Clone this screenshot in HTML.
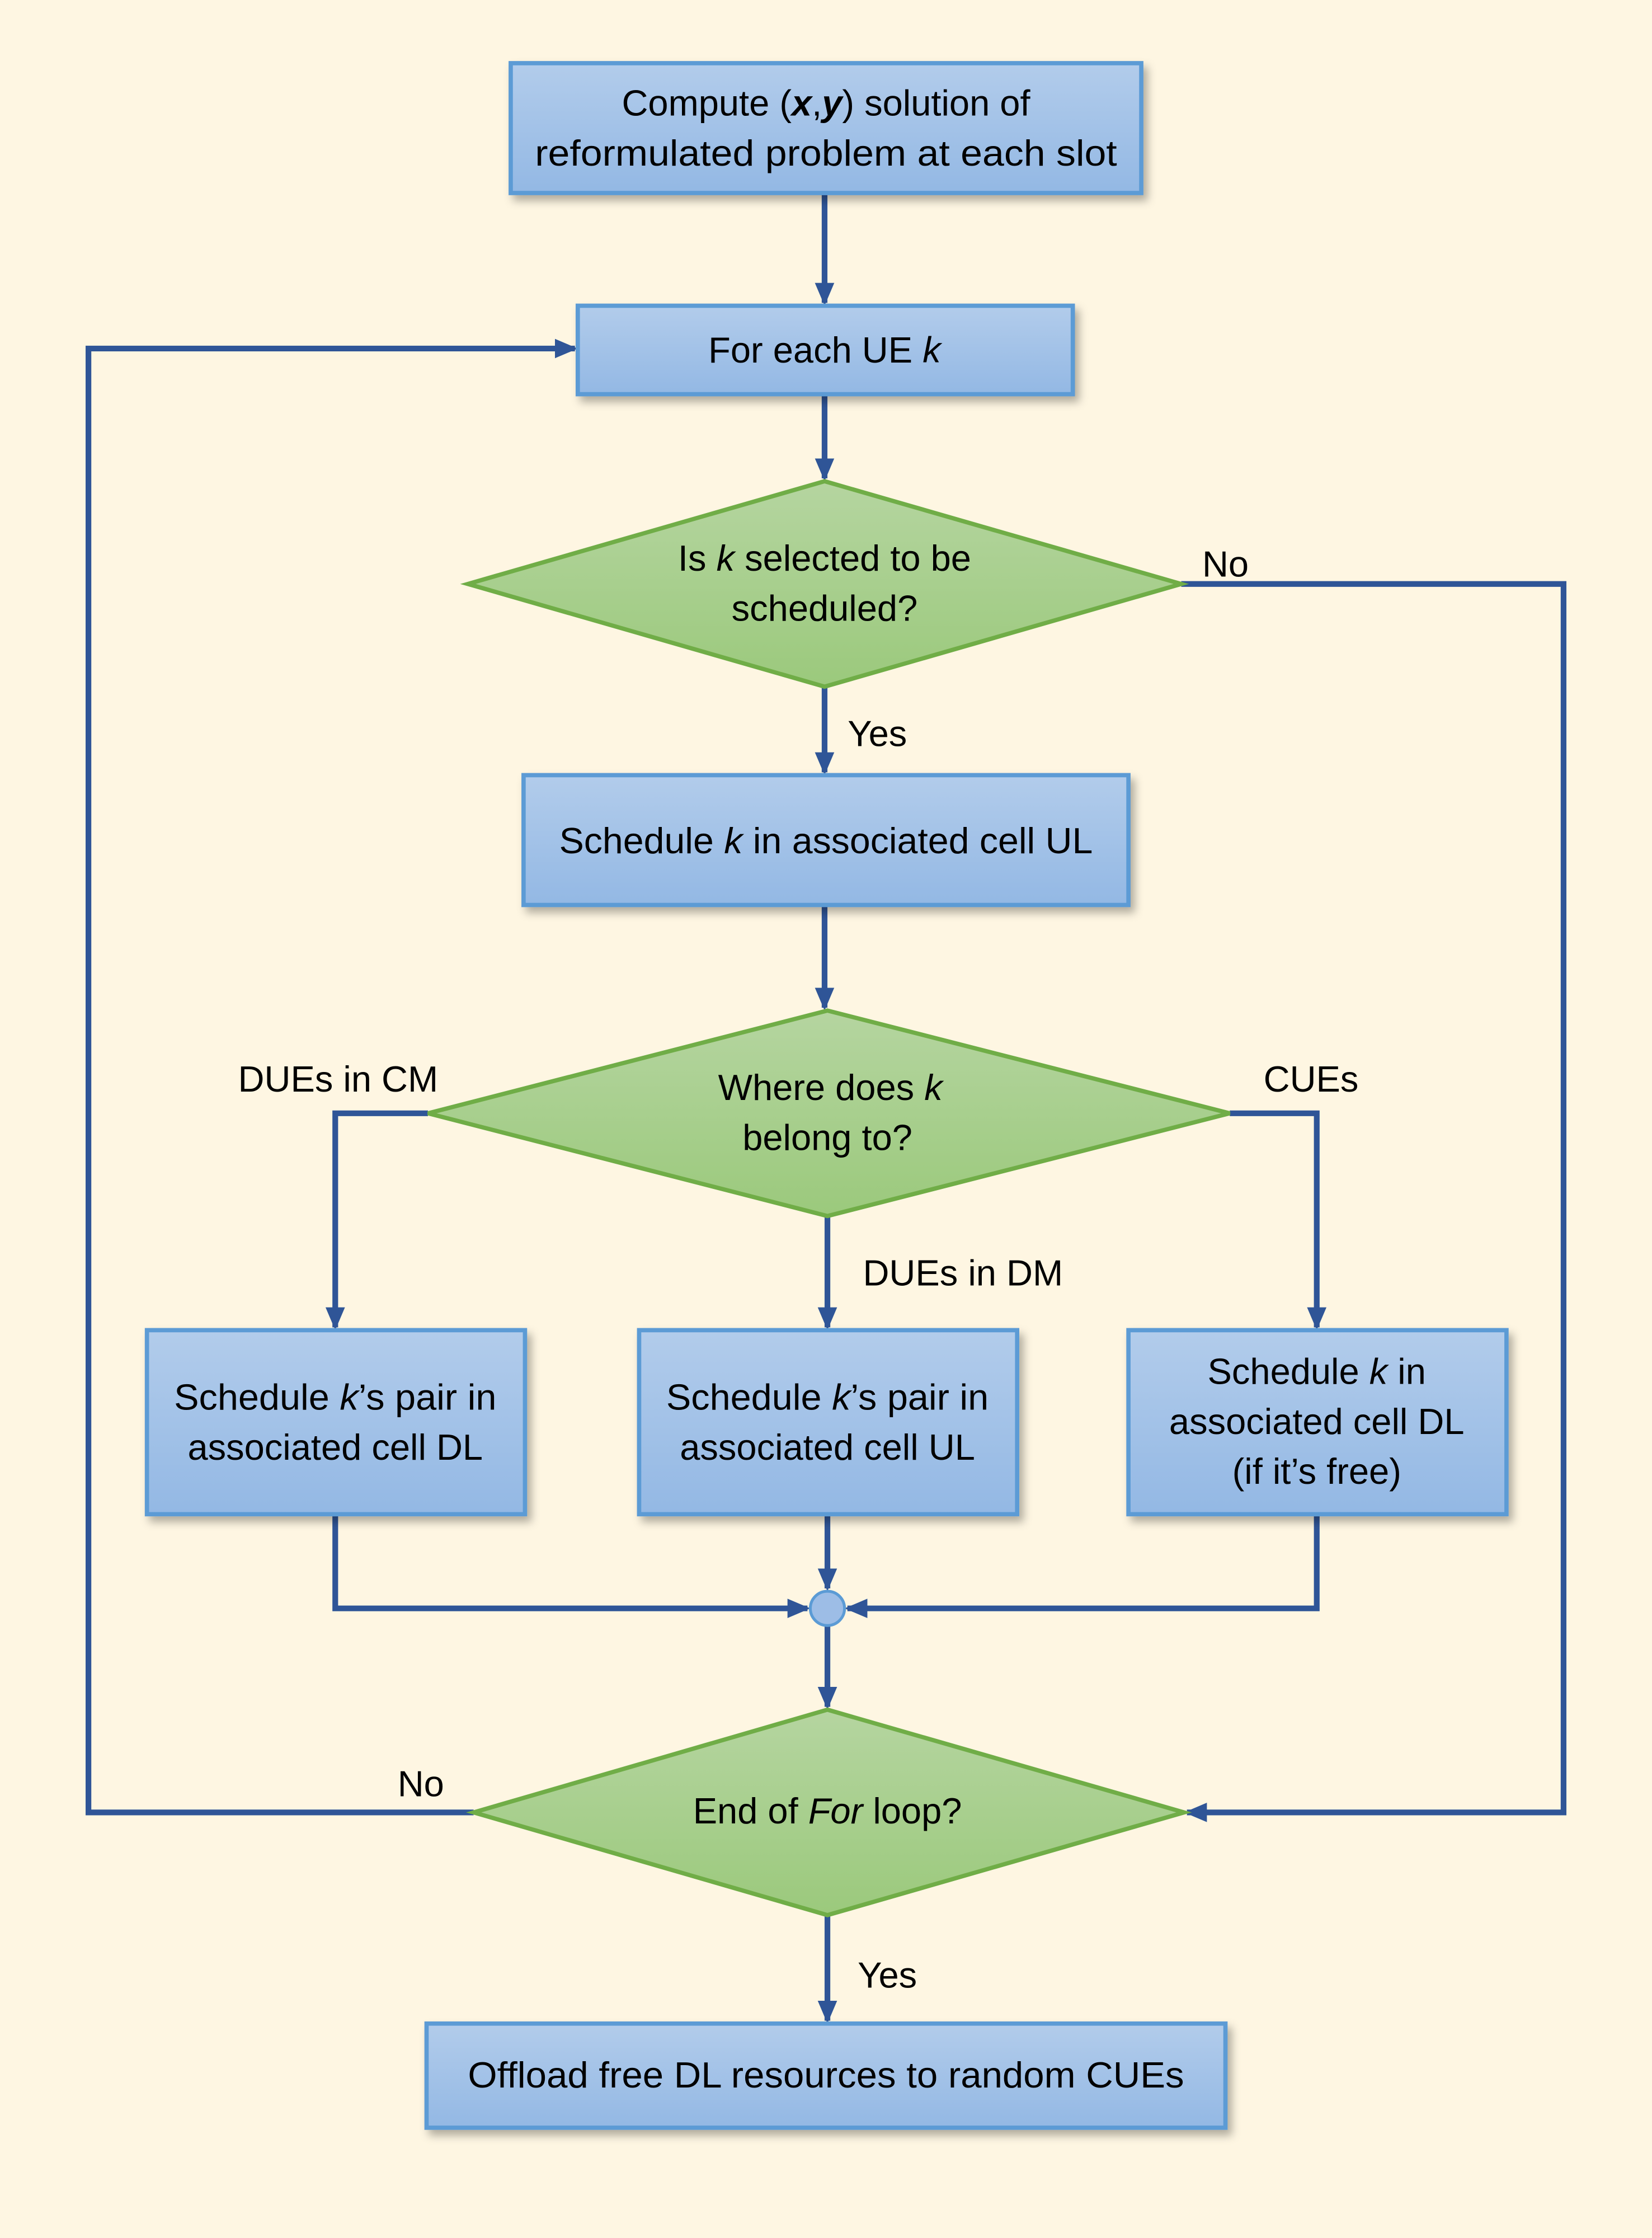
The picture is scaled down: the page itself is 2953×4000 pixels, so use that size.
<!DOCTYPE html>
<html><head><meta charset="utf-8"><style>
html,body{margin:0;padding:0;background:#fef6e2;}
svg{display:block;}
text{font-family:"Liberation Sans",sans-serif;font-size:25.5px;fill:#000;text-anchor:middle;dominant-baseline:middle;}
</style></head><body>
<svg width="2953" height="4000" viewBox="0 0 1158 1568" xmlns="http://www.w3.org/2000/svg">
<defs>
<linearGradient id="bg" x1="0" y1="0" x2="0" y2="1"><stop offset="0" stop-color="#b2cceb"/><stop offset="1" stop-color="#93b8e4"/></linearGradient>
<linearGradient id="gg" x1="0" y1="0" x2="0" y2="1"><stop offset="0" stop-color="#b5d5a0"/><stop offset="1" stop-color="#9bc97c"/></linearGradient>
<marker id="a" markerWidth="4" markerHeight="4" refX="3.5" refY="2" orient="auto" markerUnits="strokeWidth"><path d="M0,0.3 L4,2 L0,3.7 Z" fill="#2f5597"/></marker>
<filter id="sh" x="-5%" y="-5%" width="115%" height="125%"><feDropShadow dx="3" dy="4" stdDeviation="3" flood-color="#000" flood-opacity="0.3"/></filter>
</defs>
<rect width="1158" height="1568" fill="#fef6e2"/>
<g fill="none" stroke="#2f5597" stroke-width="4">
<path d="M578,135 V212" marker-end="url(#a)"/>
<path d="M578,276 V335" marker-end="url(#a)"/>
<path d="M578,481 V541" marker-end="url(#a)"/>
<path d="M578,634 V706" marker-end="url(#a)"/>
<path d="M300,780 H235 V930" marker-end="url(#a)"/>
<path d="M862,780 H923 V930" marker-end="url(#a)"/>
<path d="M580,852 V930" marker-end="url(#a)"/>
<path d="M235,1061 V1127 H566" marker-end="url(#a)"/>
<path d="M923,1061 V1127 H594" marker-end="url(#a)"/>
<path d="M580,1061 V1113" marker-end="url(#a)"/>
<path d="M580,1139 V1196" marker-end="url(#a)"/>
<path d="M332,1270 H62 V244 H403" marker-end="url(#a)"/>
<path d="M828,409 H1096 V1270 H832" marker-end="url(#a)"/>
<path d="M580,1342 V1416" marker-end="url(#a)"/>
</g>
<g stroke="#5b9bd5" stroke-width="3" fill="url(#bg)" filter="url(#sh)">
<rect x="358" y="44" width="442" height="91"/>
<rect x="405" y="214" width="347" height="62"/>
<rect x="367" y="543" width="424" height="91"/>
<rect x="103" y="932" width="265" height="129"/>
<rect x="448" y="932" width="265" height="129"/>
<rect x="791" y="932" width="265" height="129"/>
<rect x="299" y="1418" width="560" height="73"/>
</g>
<g stroke="#70ad47" stroke-width="3" fill="url(#gg)">
<path d="M578,337 L828,409 L578,481 L328,409 Z"/>
<path d="M580,708 L862,780 L580,852 L300,780 Z"/>
<path d="M580,1198 L830,1270 L580,1342 L332,1270 Z"/>
</g>
<circle cx="580" cy="1127" r="12" fill="#9dbde6" stroke="#5b9bd5" stroke-width="2"/>
<text x="579" y="74">Compute (<tspan font-weight="bold" font-style="italic">x</tspan>,<tspan font-weight="bold" font-style="italic">y</tspan>) solution of</text>
<text x="579" y="109" textLength="408" lengthAdjust="spacingAndGlyphs">reformulated problem at each slot</text>
<text x="578" y="247">For each UE <tspan font-style="italic">k</tspan></text>
<text x="578" y="393">Is <tspan font-style="italic">k</tspan> selected to be</text>
<text x="578" y="428">scheduled?</text>
<text x="579" y="591" textLength="374" lengthAdjust="spacingAndGlyphs">Schedule <tspan font-style="italic">k</tspan> in associated cell UL</text>
<text x="582" y="764">Where does <tspan font-style="italic">k</tspan></text>
<text x="580" y="799">belong to?</text>
<text x="235" y="981" textLength="226" lengthAdjust="spacingAndGlyphs">Schedule <tspan font-style="italic">k</tspan>’s pair in</text>
<text x="235" y="1016">associated cell DL</text>
<text x="580" y="981" textLength="226" lengthAdjust="spacingAndGlyphs">Schedule <tspan font-style="italic">k</tspan>’s pair in</text>
<text x="580" y="1016">associated cell UL</text>
<text x="923" y="963">Schedule <tspan font-style="italic">k</tspan> in</text>
<text x="923" y="998">associated cell DL</text>
<text x="923" y="1033">(if it’s free)</text>
<text x="580" y="1271">End of <tspan font-style="italic">For</tspan> loop?</text>
<text x="579" y="1456" textLength="502" lengthAdjust="spacingAndGlyphs">Offload free DL resources to random CUEs</text>
<text x="615" y="516">Yes</text>
<text x="859" y="397">No</text>
<text x="237" y="758">DUEs in CM</text>
<text x="919" y="758">CUEs</text>
<text x="675" y="894">DUEs in DM</text>
<text x="295" y="1252">No</text>
<text x="622" y="1386">Yes</text>
</svg>
</body></html>
